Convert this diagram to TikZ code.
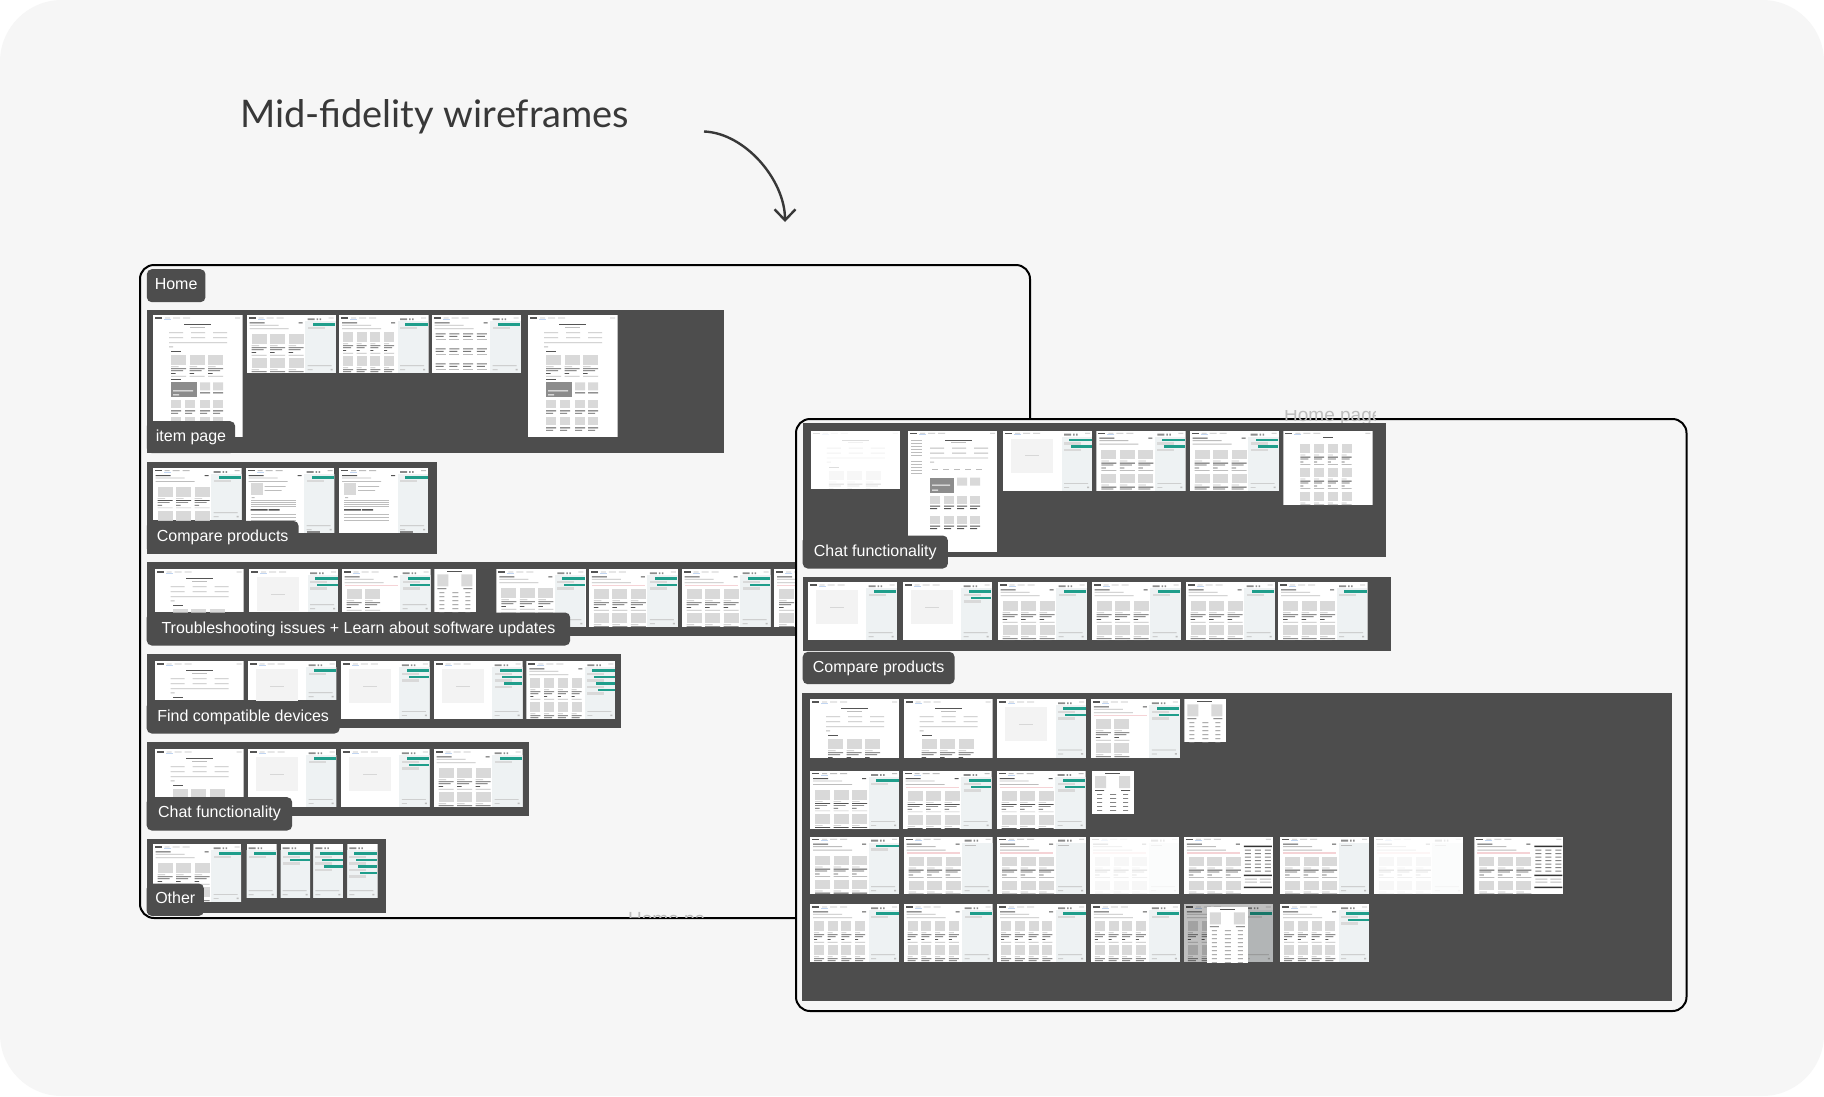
\documentclass[tikz,border=0pt]{standalone}
\usepackage{fontspec}
\setmainfont{Liberation Sans}
\newfontfamily\titlefont{Lato}
\usetikzlibrary{arrows.meta}

\definecolor{canvas}{HTML}{F6F6F6}
\definecolor{panelgray}{HTML}{4D4D4D}
\definecolor{tealbar}{HTML}{1F9E8B}
\definecolor{chatgray}{HTML}{EEF2F3}
\definecolor{blockgray}{HTML}{D9D9D9}
\definecolor{inkgray}{HTML}{555555}
\definecolor{linegray}{HTML}{BDBDBD}
\definecolor{blankgray}{HTML}{F3F3F3}
\definecolor{pinkbar}{HTML}{F5D3D6}
\definecolor{bluebar}{HTML}{C2D6F2}
\colorlet{midgray}{black!45}

\tikzset{
  panel/.style={fill=panelgray},
  frame/.style={draw=black,line width=2pt,rounded corners=14pt,fill=canvas},
  tag/.style={fill=panelgray,rounded corners=5pt,text=white,anchor=north west,inner xsep=8pt,inner ysep=0pt,
    text height=11.5pt,text depth=3.5pt,font=\fontsize{16}{18}\selectfont},
  ghost/.style={text=linegray,font=\fontsize{19}{21}\selectfont,inner sep=0pt,anchor=base west},
}

% parts of a wireframe thumbnail, in pixels from its top left corner
\newcommand\wfhead{%
  \fill[inkgray] (2,2) rectangle (9,3.2);
  \fill[linegray] (12,2.2) rectangle (17,3) (20,2.2) rectangle (27,3) (30,2.2) rectangle (37,3) (82,2.2) rectangle (87,3);
  \fill[bluebar] (11,3.6) rectangle (18,4.3);
}
\newcommand\wfpagetop{%
  \fill[inkgray] (3,7) rectangle (18,8) (52,7) rectangle (56,8);
  \fill[linegray] (3,9.5) rectangle (32,10.3) (3,13) rectangle (42,13.8);
}
\newcommand\wfcards[5]{% cols, box width, step, x, y
  \foreach \crow in {0,1,2,3} {
    \foreach \ccol in {1,...,#1} {
      \pgfmathsetmacro\cardx{#4+(\ccol-1)*#3}
      \pgfmathsetmacro\cardy{#5+\crow*24}
      \begin{scope}[shift={(\cardx,\cardy)}]
        \fill[blockgray] (0,0) rectangle (#2,9.5);
        \fill[linegray] (0,11) rectangle ({#2*.5},11.7) (0,20.5) rectangle (#2,21.2);
        \fill[inkgray] (0,13) rectangle (#2,13.8) (0,15) rectangle ({#2*.8},15.7) (0,17.8) rectangle ({#2*.3},18.6);
      \end{scope}
    }
  }
}
\newcommand\wfchat{%
  \fill[chatgray] (58.5,6) rectangle (89,\shoth);
  \fill[midgray] (61,3) rectangle (68,4.8) (70,3) rectangle (71.5,4.8) (73,3) rectangle (74.5,4.8);
  \ifnum\nteal>0
    \foreach \ti in {1,...,\nteal} {
      \fill[tealbar] ({64+\ti*2},{1.5+\ti*6.5}) rectangle (88.5,{4+\ti*6.5});
      \fill[blockgray] (61,{5+\ti*6.5}) rectangle (78,{7.5+\ti*6.5});
    }
  \else
    \fill[linegray] (61,8) rectangle (72,8.8);
  \fi
  \fill[linegray] (61,{\shoth-8}) rectangle (85,{\shoth-7.3}) (61,{\shoth-4}) rectangle (66,{\shoth-3.3}) (84,{\shoth-4.5}) rectangle (86,{\shoth-3});
}
\newcommand\wftable{%
  \fill[inkgray] (13,2) rectangle (28,3);
  \fill[blockgray] (3,5) rectangle (14,17) (27,5) rectangle (38,17);
  \fill[inkgray] (3,19) rectangle (12,19.8) (29,19) rectangle (38,19.8);
  \foreach \ty in {23,27,...,55} {
    \fill[linegray!70!black] (5,\ty) rectangle (10,{\ty+.8}) (18,\ty) rectangle (24,{\ty+.8}) (31,\ty) rectangle (36,{\ty+.8});
  }
}
\newcommand\wfhomeitems[1]{%
  \fill[inkgray] ({31+#1},9) rectangle ({58+#1},10);
  \fill[linegray] ({37+#1},11.5) rectangle ({52+#1},12.2);
  \foreach \hx in {16,38,60} {
    \fill[linegray] ({\hx+#1},17) rectangle ({\hx+14+#1},17.8) ({\hx+#1},22) rectangle ({\hx+14+#1},22.8);
  }
  \fill[linegray] ({16+#1},27) rectangle ({74+#1},27.7) ({16+#1},31) rectangle ({20+#1},32);
}
% one kind of thumbnail each
\newcommand\wflistthree{\wfhead\wfpagetop\wfchat\wfcards{3}{15}{18.5}{5}{19}}
\newcommand\wflistfour{\wfhead\wfpagetop\wfchat\wfcards{4}{10}{13.7}{4}{17}}
\newcommand\wftextfour{\wfhead\wfpagetop\wfchat
  \foreach \ty in {18,33,48} {\foreach \tx in {4,17.7,31.4,45.1} {
    \fill[inkgray!80] (\tx,\ty) rectangle ({\tx+10},{\ty+1}) (\tx,{\ty+2.5}) rectangle ({\tx+8},{\ty+3.5});
    \fill[linegray] (\tx,{\ty+6}) rectangle ({\tx+10},{\ty+6.8});
  }}}
\newcommand\wfblank{\wfhead\wfchat\fill[blankgray] (8,8) rectangle (50,42);\fill[linegray!60] (22,24.5) rectangle (36,25.2);}
\newcommand\wfwarn{\wfhead\wfpagetop\wfchat\fill[pinkbar] (3,15.5) rectangle (56,17);\wfcards{3}{15}{18.5}{5}{20}}
\newcommand\wfwarntwo{\wfhead\wfpagetop\wfchat\fill[pinkbar] (3,15.5) rectangle (56,17);\wfcards{2}{15}{18.5}{5}{20}}
\newcommand\wfspecs{\wfhead\wfpagetop\fill[pinkbar] (3,15.5) rectangle (56,17);\wfcards{3}{15}{18.5}{5}{20}
  \fill[white] (58.5,6) rectangle (89,\shoth);
  \fill[inkgray!60!black] (60,9) rectangle (88,10.5) (60,38) rectangle (88,39.5) (60,50) rectangle (88,51.5);
  \foreach \ty in {13,16.5,...,34} {\fill[linegray!70!black] (61,\ty) rectangle (67,{\ty+.8}) (71,\ty) rectangle (77,{\ty+.8}) (81,\ty) rectangle (87,{\ty+.8});}
  \foreach \ty in {42,45} {\fill[linegray] (61,\ty) rectangle (73,{\ty+.8}) (76,\ty) rectangle (87,{\ty+.8});}}
\newcommand\wfdetail{\wfhead\wfpagetop\wfchat
  \fill[blockgray] (5,15) rectangle (17,27);
  \fill[linegray] (19,18) rectangle (40,18.8) (6,29) rectangle (9,30) (19,22) rectangle (36,22.8);
  \foreach \ty in {32,34,36,38} {\fill[linegray] (5,\ty) rectangle (50,{\ty+.8});}
  \fill[inkgray] (5,41) rectangle (22,42.5) (23,41) rectangle (34,42.5);
  \foreach \ty in {46,49,52} {\fill[linegray] (5,\ty) rectangle (50,{\ty+.8});}
  \fill[inkgray!70] (61,{\shoth-2}) rectangle (74,\shoth);}
\newcommand\wfhome{\wfhead\wfhomeitems{0}
  \fill[inkgray] (18,36) rectangle (28,36.8);
  \wfcards{3}{15}{18.5}{18}{40}}
\newcommand\wfhometall{\wfhome
  \fill[white] (0,62) rectangle (89,\shoth);
  \fill[inkgray] (18,64) rectangle (28,64.8);
  \fill[midgray] (18,67) rectangle (44,82);
  \fill[white] (20,75) rectangle (40,76) (20,79) rectangle (26,80);
  \fill[blockgray] (47,67) rectangle (57,75) (60,67) rectangle (70,75);
  \fill[inkgray] (47,77) rectangle (57,78) (60,77) rectangle (70,78);
  \foreach \ty in {85,102} {\foreach \tx in {18,32,47,60} {
    \fill[blockgray] (\tx,\ty) rectangle ({\tx+10},{\ty+8});
    \fill[inkgray] (\tx,{\ty+10}) rectangle ({\tx+10},{\ty+11}) (\tx,{\ty+12.5}) rectangle ({\tx+7},{\ty+13.3});
  }}}
\newcommand\wfhomeside{\wfhead
  \wfhomeitems{6}
  \foreach \ty in {9,12,...,24,30,33,...,42} {\fill[linegray] (3,\ty) rectangle (14,{\ty+.8});}
  \foreach \tx in {24,35,46,57,68} {\fill[linegray] (\tx,38) rectangle ({\tx+6},39);}
  \fill[midgray] (22,47) rectangle (46,62);
  \fill[white] (24,54) rectangle (42,55) (24,59) rectangle (30,60);
  \fill[blockgray] (49,47) rectangle (59,55) (62,47) rectangle (72,55);
  \foreach \ty in {65,85} {\foreach \tx in {22,36,49,62} {
    \fill[blockgray] (\tx,\ty) rectangle ({\tx+10},{\ty+8});
    \fill[inkgray] (\tx,{\ty+10}) rectangle ({\tx+10},{\ty+11}) (\tx,{\ty+12.5}) rectangle ({\tx+7},{\ty+13.3});
  }}}
\newcommand\wfplainfour{\wfhead
  \fill[inkgray] (40,6) rectangle (50,7);
  \wfcards{4}{10}{13.7}{17}{13}}
\newcommand\wfnarrow{\begin{scope}[xshift=-59pt]\wfchat\end{scope}}
\newcommand\wfmodal{\wflistfour
  \fill[black,opacity=.25] (0,0) rectangle (89,\shoth);
  \begin{scope}[shift={(23,3)}]\fill[white] (0,0) rectangle (41,\shoth);\wftable\end{scope}}

\newcommand\wfshot[6]{%
  \begin{scope}[shift={(#1,#2)}]
    \clip (0,0) rectangle (#3,#4);
    \fill[white] (0,0) rectangle (#3,#4);
    \def\shoth{#4}\def\nteal{#6}
    \csname wf#5\endcsname
  \end{scope}}

\begin{document}
\begin{tikzpicture}[x=1pt,y=-1pt]
  \useasboundingbox (0,0) rectangle (1824,1096);
  \fill[white] (0,0) rectangle (1824,1096);
  \fill[canvas,rounded corners=62pt] (0,0) rectangle (1824,1096);

  \node[font=\titlefont\fontsize{38}{40}\selectfont,text=black!78,inner sep=0pt,anchor=base west] (title) at (240,127.7) {Mid-fidelity wireframes};
  \coordinate (arrowstart) at (704,131.5);
  \coordinate (arrowend) at (785,222);
  \draw[black!78,line width=2.4pt,-{Straight Barb[length=11pt,width=21pt]}] (arrowstart) .. controls (745,133) and (785,180) .. (arrowend);

  % home frame
  \draw[frame] (140,265) rectangle (1030,918);
  \begin{scope}
    \clip (600,900) rectangle (720,917);
    \node[ghost] (ghosthome) at (628,925) {Home pa};
  \end{scope}

  \fill[panel] (146.5,310) rectangle (724,453);
  \fill[panel] (146.5,462) rectangle (437,554);
  \fill[panel] (146.5,562) rectangle (800,636);
  \fill[panel] (146.5,653.7) rectangle (621.3,728);
  \fill[panel] (146.5,741.7) rectangle (529,816.3);
  \fill[panel] (146.5,838.7) rectangle (386.3,913.3);

  \foreach \px/\py/\pw/\ph/\pkind/\pn in {
      153/315.3/89.7/121.4/hometall/0, 246.6/315.3/89.4/58/listthree/1, 339/315.3/89.5/58/listfour/1,
      431.7/315.3/89.3/58/textfour/1, 528/315.3/89.5/121.4/hometall/0,
      152.5/468/89/52.3/listthree/1, 245.5/468/88.9/65.3/detail/1, 339/468/89/65.3/detail/1,
      154.7/569.3/88.9/43/home/0, 249/569.3/89/43/blank/2, 341.6/569.3/88.9/43/warntwo/2, 434.4/569.3/41.6/43/table/0,
      496.4/569.3/89.4/58/listthree/2, 588.8/569.3/89.2/58/warn/2, 681.6/569.3/88.9/58/warn/2, 774/569.3/26/58/warn/2,
      154.7/661.3/88.9/39/home/0, 247.5/661.3/88.9/39/blank/1, 340.8/661.3/88.9/57.7/blank/2, 433.5/661.3/89/57.7/blank/3, 526.4/661.3/88.9/57.7/listfour/4,
      154.7/749.3/88.9/47.7/home/0, 247.5/749.3/88.9/57.7/blank/1, 340.8/749.3/88.9/57.7/blank/2, 433.5/749.3/89/57.7/listthree/1,
      152.5/844.3/88.5/57.7/listthree/1, 246.7/844.3/29.9/54/narrow/1, 280.5/844.3/29.5/54/narrow/2, 313.4/844.3/30/54/narrow/3, 347.3/844.3/30.3/54/narrow/4}
    {\wfshot{\px}{\py}{\pw}{\ph}{\pkind}{\pn}}

  \node[tag,minimum width=58.4pt,minimum height=33pt] (home) at (146.6,269) {Home};
  \node[tag,minimum width=88.4pt,minimum height=32pt] (itempage) at (146.6,421) {item page};
  \node[tag,minimum width=151.8pt,minimum height=32.5pt] (compareleft) at (146.6,520.7) {Compare products};
  \node[tag,minimum width=423.5pt,minimum height=33pt] (trouble) at (146.5,612.3) {Troubleshooting issues + Learn about software updates};
  \node[tag,minimum width=193pt,minimum height=32.3pt] (compatible) at (146.5,701) {Find compatible devices};
  \node[tag,minimum width=145.5pt,minimum height=33.3pt] (chatleft) at (146.5,797) {Chat functionality};
  \node[tag,minimum width=57.2pt,minimum height=32.4pt] (other) at (146.5,883.3) {Other};

  % second frame, lies over the first
  \draw[frame] (796,419) rectangle (1686.5,1011);
  \begin{scope}
    \clip (1270,410) rectangle (1375,424);
    \node[ghost] (ghostpage) at (1284,421) {Home page};
  \end{scope}

  \fill[panel] (802.5,423.3) rectangle (1385.8,557.3);
  \fill[panel] (802.5,577) rectangle (1390.5,651.3);
  \fill[panel] (802,692.7) rectangle (1672,1001.3);

  \foreach \px/\py/\pw/\ph/\pkind/\pn in {
      810.8/430.7/89/58/home/0, 908/430.7/89/121.6/homeside/0, 1003/430.7/89.4/60.3/blank/2, 1096.3/430.7/89.4/60.3/listthree/2,
      1189.6/430.7/89.4/60.3/listthree/2, 1283.4/430.7/89.3/74.6/plainfour/0,
      807.7/582.3/89.3/58/blank/1, 902.6/582.3/89.4/58/blank/2, 997.5/582.3/89.3/58/listthree/1, 1091.6/582.3/89.4/58/listthree/1,
      1185.7/582.3/89.3/58/listthree/1, 1278/582.3/89.6/58/listthree/1,
      810/699.3/89/58.4/home/0, 903.7/699.3/88.9/58.4/home/0, 997.2/699.3/88.8/58.4/blank/2, 1090.8/699.3/89/58.4/warntwo/2, 1184.4/699.3/41.9/43/table/0,
      810/771/89/58/listthree/1, 902.5/771/89/58/warn/2, 996.7/771/88.9/58/warn/2, 1092/771/41.9/42.7/table/0,
      810/836.7/89/57.6/listthree/1, 903.7/836.7/88.9/57.6/warn/0, 997.2/836.7/88.8/57.6/warn/0, 1090.2/836.7/89/57.6/warn/0,
      1183.8/836.7/89/57.6/specs/0, 1280.2/836.7/89/57.6/warn/0, 1373.8/836.7/89/57.6/warn/0, 1474.3/836.7/89/57.6/specs/0,
      810/904.3/89/58/listfour/1, 903.7/904.3/88.9/58/listfour/1, 997.2/904.3/88.8/58/listfour/1, 1090.8/904.3/89/58/listfour/1,
      1183.8/904.3/89/58/modal/1, 1280.2/904.3/89/58/listfour/2}
    {\wfshot{\px}{\py}{\pw}{\ph}{\pkind}{\pn}}

  % the loading states are washed out
  \foreach \px/\py/\pw/\ph in {810.8/430.7/89/58, 1090.2/836.7/89/57.6, 1373.8/836.7/89/57.6}
    {\fill[white,opacity=.8] (\px,\py) rectangle ++(\pw,\ph);}

  \node[tag,minimum width=145.2pt,minimum height=33pt] (chatright) at (802.5,535.3) {Chat functionality};
  \node[tag,minimum width=151.9pt,minimum height=32.3pt] (compareright) at (802.5,651.7) {Compare products};
\end{tikzpicture}
\end{document}
